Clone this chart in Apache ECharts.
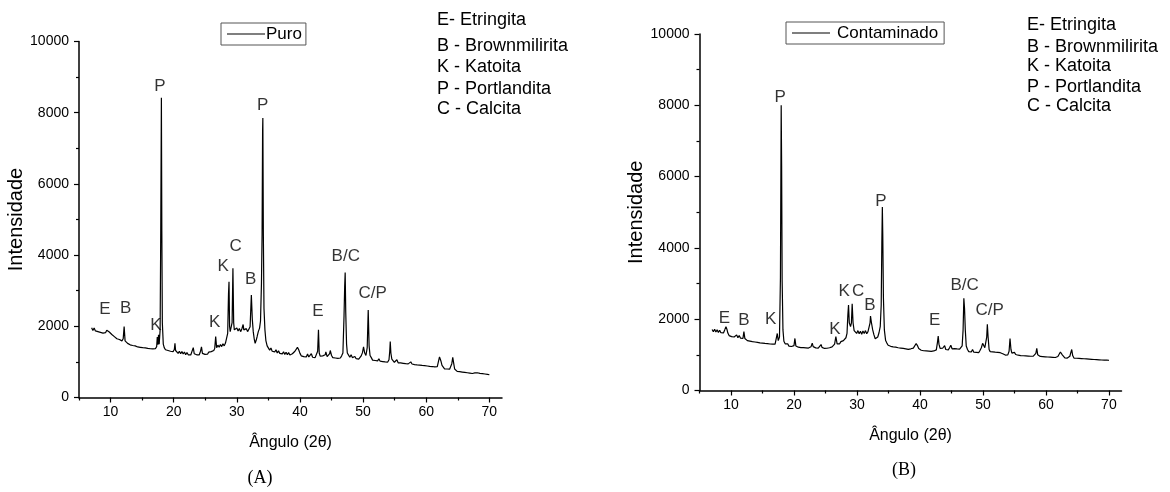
<!DOCTYPE html>
<html>
<head>
<meta charset="utf-8">
<title>Difratogramas</title>
<script src="https://cdn.jsdelivr.net/npm/echarts@6.0.0/dist/echarts.min.js"></script>
<style>
  html, body { margin: 0; padding: 0; background: #fff; }
  #chart { width: 1170px; height: 492px; }
</style>
</head>
<body>
<div id="chart"></div>
<script>
// Difratograma da amostra pura: [ângulo 2θ, intensidade]
const puro = [
  [7.0,1960],[7.2,1880],[7.4,1950],[7.6,1870],[7.8,1920],[8.0,1850],[8.2,1905],[8.4,1830],[8.6,1880],[8.8,1810],
  [9.0,1865],[9.2,1820],[9.4,1890],[9.6,1910],[9.8,1840],[10.0,1810],[10.2,1770],[10.4,1760],[10.6,1710],[10.8,1720],
  [11.0,1650],[11.2,1700],[11.4,1630],[11.6,1655],[11.8,1590],[12.0,1650],[12.15,1990],[12.3,1590],[12.5,1560],[12.7,1520],
  [12.9,1540],[13.1,1480],[13.3,1510],[13.5,1460],[13.7,1500],[13.9,1450],[14.1,1475],[14.3,1420],[14.5,1460],[14.7,1410],
  [14.9,1450],[15.1,1400],[15.3,1440],[15.5,1395],[15.7,1430],[15.9,1380],[16.1,1420],[16.3,1370],[16.5,1415],[16.7,1365],
  [16.9,1410],[17.1,1370],[17.3,1430],[17.4,1700],[17.5,1480],[17.6,1760],[17.7,1500],[17.85,1900],[17.95,4700],[18.05,8420],
  [18.12,4650],[18.2,2100],[18.35,1500],[18.5,1400],[18.7,1340],[18.9,1390],[19.1,1320],[19.3,1370],[19.5,1300],[19.7,1350],
  [19.9,1290],[20.1,1350],[20.2,1520],[20.3,1320],[20.5,1300],[20.7,1240],[20.9,1300],[21.1,1230],[21.3,1290],[21.5,1220],
  [21.7,1280],[21.9,1200],[22.1,1265],[22.3,1200],[22.5,1255],[22.7,1195],[22.9,1250],[23.1,1400],[23.25,1230],[23.45,1250],
  [23.65,1200],[23.85,1255],[24.05,1200],[24.25,1300],[24.4,1420],[24.55,1240],[24.75,1260],[24.95,1210],[25.15,1260],[25.35,1215],
  [25.55,1275],[25.75,1240],[25.95,1290],[26.15,1260],[26.35,1320],[26.5,1380],[26.65,1710],[26.8,1400],[27.0,1470],[27.2,1410],
  [27.4,1490],[27.6,1430],[27.8,1510],[28.0,1450],[28.2,1530],[28.4,1560],[28.55,1800],[28.68,2900],[28.76,3250],[28.85,2000],
  [28.95,1850],[29.1,1830],[29.25,2100],[29.38,3630],[29.5,2100],[29.6,1900],[29.8,1860],[30.0,1950],[30.2,1870],[30.4,1940],
  [30.6,1850],[30.8,1930],[31.0,2050],[31.1,1900],[31.3,1860],[31.5,1935],[31.7,1850],[31.9,1920],[32.1,1990],[32.3,2880],
  [32.45,2200],[32.6,1850],[32.75,1650],[32.9,1520],[33.05,1600],[33.2,1700],[33.4,1850],[33.6,1950],[33.75,2150],[33.9,3200],
  [34.0,4600],[34.08,7480],[34.12,7850],[34.2,4590],[34.3,2500],[34.45,1900],[34.6,1600],[34.8,1450],[35.0,1420],[35.2,1330],
  [35.4,1390],[35.6,1300],[35.8,1340],[36.0,1280],[36.2,1340],[36.4,1250],[36.6,1310],[36.8,1240],[37.0,1290],[37.2,1225],
  [37.4,1285],[37.6,1210],[37.8,1270],[38.0,1200],[38.2,1260],[38.4,1195],[38.6,1250],[38.8,1230],[39.0,1280],[39.2,1300],
  [39.4,1350],[39.6,1410],[39.8,1340],[40.0,1240],[40.2,1170],[40.4,1210],[40.6,1150],[40.8,1200],[41.0,1140],[41.2,1220],
  [41.4,1140],[41.6,1190],[41.8,1230],[42.0,1130],[42.2,1180],[42.4,1120],[42.6,1170],[42.8,1300],[42.93,1900],[43.05,1250],
  [43.2,1160],[43.4,1110],[43.6,1170],[43.8,1120],[44.0,1200],[44.1,1280],[44.3,1150],[44.5,1120],[44.7,1230],[44.8,1320],
  [45.0,1180],[45.2,1120],[45.4,1170],[45.6,1110],[45.8,1160],[46.0,1100],[46.2,1155],[46.4,1110],[46.6,1170],[46.8,1250],
  [46.98,2300],[47.08,3100],[47.16,3510],[47.25,2400],[47.38,1500],[47.5,1250],[47.7,1190],[47.9,1130],[48.1,1200],[48.3,1120],
  [48.5,1100],[48.7,1150],[48.9,1090],[49.1,1140],[49.3,1080],[49.5,1125],[49.7,1170],[49.9,1260],[50.07,1420],[50.25,1250],
  [50.45,1180],[50.65,1400],[50.81,2460],[50.95,1450],[51.1,1180],[51.3,1120],[51.5,1050],[51.7,1100],[51.9,1040],[52.1,1085],
  [52.3,1030],[52.5,1090],[52.7,1020],[52.9,1060],[53.1,1010],[53.3,1055],[53.5,1000],[53.7,1045],[53.9,995],[54.1,1060],
  [54.22,1300],[54.3,1570],[54.4,1250],[54.55,1080],[54.75,1030],[54.95,990],[55.15,1040],[55.35,1060],[55.55,975],[55.75,1020],
  [55.95,970],[56.15,1010],[56.35,960],[56.55,1000],[56.75,950],[56.95,990],[57.15,945],[57.35,985],[57.55,1000],[57.75,940],
  [57.95,975],[58.15,925],[58.35,965],[58.55,915],[58.75,960],[58.95,910],[59.15,950],[59.35,900],[59.55,940],[59.75,895],
  [59.95,935],[60.15,885],[60.35,925],[60.55,875],[60.75,920],[60.95,870],[61.15,905],[61.35,860],[61.55,900],[61.75,865],
  [61.95,920],[62.1,1140],[62.23,1165],[62.35,1010],[62.5,900],[62.7,850],[62.9,805],[63.1,845],[63.3,800],[63.5,835],
  [63.7,795],[63.9,830],[64.05,950],[64.2,1130],[64.35,960],[64.5,800],[64.7,770],[64.9,735],[65.1,765],[65.3,725],
  [65.5,755],[65.7,715],[65.9,745],[66.1,705],[66.3,735],[66.5,695],[66.7,725],[66.9,685],[67.1,715],[67.3,675],
  [67.5,705],[67.7,690],[67.9,660],[68.1,695],[68.3,650],[68.5,680],[68.7,645],[68.9,670],[69.1,640],[69.3,660],
  [69.5,635],[69.7,650],[69.9,630],[70.0,640]
];

// Difratograma da amostra contaminada: [ângulo 2θ, intensidade]
const contaminado = [
  [7.0,1710],[7.2,1650],[7.4,1720],[7.6,1640],[7.8,1700],[8.0,1630],[8.2,1690],[8.4,1620],[8.6,1675],[8.8,1615],
  [9.0,1700],[9.2,1790],[9.35,1720],[9.5,1610],[9.7,1540],[9.9,1570],[10.1,1510],[10.3,1545],[10.5,1500],[10.7,1530],
  [10.9,1560],[11.1,1480],[11.3,1545],[11.5,1470],[11.7,1490],[11.9,1460],[12.05,1650],[12.2,1460],[12.4,1450],[12.6,1400],
  [12.8,1450],[13.0,1385],[13.2,1430],[13.4,1370],[13.6,1420],[13.8,1360],[14.0,1405],[14.2,1350],[14.4,1400],[14.6,1335],
  [14.8,1390],[15.0,1330],[15.2,1380],[15.4,1320],[15.6,1375],[15.8,1315],[16.0,1365],[16.2,1305],[16.4,1360],[16.6,1300],
  [16.8,1350],[17.0,1300],[17.2,1345],[17.35,1600],[17.5,1400],[17.7,1500],[17.85,3160],[17.97,8000],[18.04,6300],[18.12,3100],
  [18.25,1700],[18.4,1380],[18.6,1310],[18.8,1260],[19.0,1310],[19.2,1245],[19.4,1300],[19.6,1235],[19.8,1285],[20.0,1260],
  [20.15,1460],[20.3,1250],[20.5,1260],[20.7,1215],[20.9,1250],[21.1,1205],[21.3,1250],[21.5,1200],[21.7,1245],[21.9,1195],
  [22.1,1240],[22.3,1190],[22.5,1235],[22.7,1225],[22.9,1330],[23.05,1230],[23.25,1235],[23.45,1195],[23.65,1240],[23.85,1190],
  [24.05,1235],[24.3,1290],[24.45,1210],[24.65,1225],[24.85,1180],[25.05,1230],[25.25,1185],[25.45,1240],[25.65,1200],[25.85,1250],
  [26.05,1225],[26.25,1280],[26.45,1300],[26.65,1510],[26.85,1310],[27.05,1350],[27.25,1310],[27.45,1370],[27.65,1330],[27.85,1400],
  [28.05,1390],[28.25,1480],[28.42,1600],[28.55,2100],[28.66,2400],[28.78,1900],[28.98,1790],[29.12,1900],[29.24,2430],[29.38,1900],
  [29.55,1680],[29.75,1640],[29.95,1600],[30.15,1680],[30.35,1590],[30.55,1660],[30.75,1580],[30.95,1670],[31.15,1600],[31.35,1680],
  [31.55,1590],[31.75,1650],[31.95,1700],[32.08,1900],[32.15,2090],[32.3,1900],[32.5,1700],[32.7,1560],[32.9,1450],[33.1,1417],
  [33.3,1500],[33.5,1620],[33.7,1800],[33.85,2400],[33.95,4130],[34.03,5150],[34.1,4350],[34.2,2600],[34.35,1700],[34.55,1400],
  [34.75,1330],[34.95,1270],[35.15,1300],[35.35,1240],[35.55,1290],[35.75,1225],[35.95,1275],[36.15,1215],[36.35,1260],[36.55,1200],
  [36.75,1250],[36.95,1190],[37.15,1235],[37.35,1180],[37.55,1225],[37.75,1170],[37.95,1215],[38.15,1155],[38.35,1205],[38.55,1170],
  [38.75,1200],[38.95,1190],[39.15,1230],[39.4,1320],[39.6,1260],[39.8,1180],[40.0,1170],[40.2,1130],[40.4,1165],[40.6,1115],
  [40.8,1160],[41.0,1110],[41.2,1150],[41.4,1105],[41.6,1145],[41.8,1100],[42.0,1140],[42.2,1110],[42.4,1150],[42.6,1140],
  [42.78,1350],[42.9,1530],[43.02,1300],[43.2,1180],[43.4,1140],[43.6,1185],[43.8,1150],[43.92,1260],[44.1,1150],[44.3,1170],
  [44.5,1140],[44.7,1200],[44.9,1270],[45.1,1170],[45.3,1130],[45.5,1175],[45.7,1120],[45.9,1165],[46.1,1115],[46.3,1160],
  [46.5,1150],[46.7,1250],[46.85,1700],[46.97,2585],[47.08,2300],[47.2,1700],[47.35,1250],[47.55,1150],[47.75,1090],[47.95,1140],
  [48.15,1080],[48.35,1150],[48.55,1075],[48.75,1120],[48.95,1070],[49.15,1110],[49.35,1065],[49.55,1130],[49.75,1200],[49.95,1324],
  [50.1,1300],[50.3,1200],[50.48,1250],[50.6,1500],[50.7,1855],[50.82,1500],[50.98,1150],[51.15,1090],[51.35,1040],[51.55,1085],
  [51.75,1030],[51.95,1075],[52.15,1025],[52.35,1070],[52.55,1020],[52.75,1060],[52.95,1090],[53.15,1030],[53.35,1040],[53.55,995],
  [53.75,1030],[53.95,1000],[54.15,1100],[54.3,1460],[54.45,1150],[54.6,1050],[54.8,1000],[55.0,1070],[55.2,1010],[55.4,1045],
  [55.6,990],[55.8,1030],[56.0,980],[56.2,1020],[56.4,975],[56.6,1015],[56.8,970],[57.0,1005],[57.2,965],[57.4,1000],
  [57.6,960],[57.8,1000],[58.0,965],[58.2,995],[58.4,1040],[58.55,1180],[58.7,1000],[58.9,990],[59.1,955],[59.3,995],
  [59.5,950],[59.7,985],[59.9,945],[60.1,980],[60.3,940],[60.5,975],[60.7,935],[60.9,970],[61.1,930],[61.3,965],
  [61.5,925],[61.7,960],[61.9,955],[62.1,990],[62.3,1080],[62.45,1120],[62.6,1000],[62.8,955],[63.0,915],[63.2,950],
  [63.4,910],[63.6,945],[63.8,960],[63.95,1060],[64.1,1150],[64.25,980],[64.45,910],[64.65,870],[64.85,905],[65.05,860],
  [65.25,900],[65.45,855],[65.65,895],[65.85,850],[66.05,890],[66.25,845],[66.45,885],[66.65,840],[66.85,880],[67.05,835],
  [67.25,875],[67.45,830],[67.65,870],[67.85,830],[68.05,865],[68.25,825],[68.45,860],[68.65,830],[68.85,855],[69.05,825],
  [69.25,850],[69.45,840],[69.65,855],[69.85,835],[70.0,845]
];

// Identificação das fases sobre os picos: [fase, ângulo 2θ, intensidade]
const fasesPuro = [
  ['E', 9.1, 2490], ['B', 12.4, 2510], ['K', 17.2, 2040], ['P', 17.8, 8750],
  ['K', 26.5, 2110], ['K', 27.85, 3690], ['C', 29.8, 4250], ['B', 32.2, 3320],
  ['P', 34.1, 8220], ['E', 42.85, 2410], ['B/C', 47.25, 3970], ['C/P', 51.5, 2940]
];
const fasesContaminado = [
  ['E', 8.95, 2020], ['B', 12.05, 1980], ['K', 16.3, 2000], ['P', 17.8, 8220],
  ['K', 26.5, 1720], ['K', 27.95, 2770], ['C', 30.2, 2770], ['B', 32.05, 2400],
  ['P', 33.8, 5310], ['E', 42.35, 1980], ['B/C', 47.1, 2960], ['C/P', 51.05, 2260]
];

// Chave das fases e textos dos painéis
const chaveFases = ['E- Etringita', 'B - Brownmilirita', 'K - Katoita', 'P - Portlandita', 'C - Calcita'];
const rotulosX = [10, 20, 30, 40, 50, 60, 70];
const marcasMenoresX = [5, 15, 25, 35, 45, 55, 65];
const nomesSeries = ['Puro', 'Contaminado'];
const paineis = ['(A)', '(B)'];

const FONT = '"Liberation Sans", Arial, sans-serif';
const SERIF = '"Liberation Serif", "Times New Roman", serif';

const grids = [
  { left: 79, top: 41.5, width: 423, height: 356 },
  { left: 699.5, top: 34, width: 422, height: 356.5 }
];

function mainX(gi) {
  return {
    gridIndex: gi, type: 'value', min: 5, max: 72,
    axisLine: { show: true, onZero: false, lineStyle: { color: '#000', width: 1.5 } },
    axisTick: { show: true, customValues: rotulosX, length: 5, lineStyle: { color: '#000', width: 1.2 } },
    axisLabel: { customValues: rotulosX, fontSize: 14, color: '#000', margin: 8, fontFamily: FONT },
    splitLine: { show: false },
    name: 'Ângulo (2θ)', nameLocation: 'middle', nameGap: 37,
    nameTextStyle: { fontSize: 16, color: '#000', fontFamily: FONT }
  };
}
function minorX(gi) {
  return {
    gridIndex: gi, type: 'value', min: 5, max: 72, position: 'bottom',
    axisLine: { show: false, onZero: false },
    axisTick: { show: true, customValues: marcasMenoresX, length: 3, lineStyle: { color: '#000', width: 1.2 } },
    axisLabel: { show: false },
    splitLine: { show: false }
  };
}
function mainY(gi, gap) {
  return {
    gridIndex: gi, type: 'value', min: 0, max: 10000, interval: 2000,
    axisLine: { show: true, onZero: false, lineStyle: { color: '#000', width: 1.5 } },
    axisTick: { show: true, length: 5, lineStyle: { color: '#000', width: 1.2 } },
    minorTick: { show: true, splitNumber: 2, length: 3, lineStyle: { color: '#000', width: 1.2 } },
    axisLabel: { fontSize: 14, color: '#000', margin: 10, fontFamily: FONT, formatter: v => String(v) },
    splitLine: { show: false },
    name: 'Intensidade', nameLocation: 'middle', nameGap: gap,
    nameTextStyle: { fontSize: 20, color: '#000', fontFamily: FONT }
  };
}

function rotulos(lista, xi, yi) {
  return {
    type: 'scatter', xAxisIndex: xi, yAxisIndex: yi, silent: true,
    symbolSize: 0, animation: false,
    label: { show: true, position: 'inside', formatter: '{b}', fontSize: 17, color: '#000', fontFamily: FONT },
    data: lista.map(r => ({ name: r[0], value: [r[1], r[2]] }))
  };
}

function chave(x, ys) {
  return chaveFases.map((t, i) => ({
    type: 'text', x: x, y: ys[i], silent: true,
    style: { text: t, fill: '#000', font: '18px ' + FONT, verticalAlign: 'middle', align: 'left' }
  }));
}

function legenda(nome, left, top, pad, textPad) {
  return {
    data: [nome], left: left, top: top, orient: 'horizontal',
    icon: 'rect', itemWidth: 38, itemHeight: 1,
    itemStyle: { color: '#000', borderWidth: 0 },
    padding: pad, borderColor: '#555', borderWidth: 1,
    textStyle: { fontSize: 17, color: '#000', fontFamily: FONT, padding: textPad, lineHeight: 18 }
  };
}

const option = {
  animation: false,
  backgroundColor: '#fff',
  textStyle: { fontFamily: FONT },
  grid: grids,
  xAxis: [mainX(0), minorX(0), mainX(1), minorX(1)],
  yAxis: [mainY(0, 44), mainY(1, 50)],
  legend: [
    legenda(nomesSeries[0], 221, 23, [2, 4, 2, 6], [0, 0, 0, -4]),
    legenda(nomesSeries[1], 786, 22, [2, 6, 2, 6], [0, 0, 0, 2])
  ],
  series: [
    {
      name: nomesSeries[0], type: 'line', xAxisIndex: 0, yAxisIndex: 0,
      data: puro, symbol: 'none', sampling: null,
      lineStyle: { color: '#000', width: 1.2 }, itemStyle: { color: '#000' }
    },
    {
      name: nomesSeries[1], type: 'line', xAxisIndex: 2, yAxisIndex: 1,
      data: contaminado, symbol: 'none', sampling: null,
      lineStyle: { color: '#000', width: 1.2 }, itemStyle: { color: '#000' }
    },
    rotulos(fasesPuro, 0, 0),
    rotulos(fasesContaminado, 2, 1)
  ],
  graphic: [
    ...chave(437, [20, 46, 67, 89, 109]),
    ...chave(1027, [25, 47, 66, 87, 106]),
    { type: 'text', x: 260, y: 478, silent: true,
      style: { text: paineis[0], fill: '#000', font: '18px ' + SERIF, align: 'center', verticalAlign: 'middle' } },
    { type: 'text', x: 904, y: 470, silent: true,
      style: { text: paineis[1], fill: '#000', font: '18px ' + SERIF, align: 'center', verticalAlign: 'middle' } }
  ]
};

const chart = echarts.init(document.getElementById('chart'), null, { renderer: 'canvas' });
chart.setOption(option);
</script>
</body>
</html>
